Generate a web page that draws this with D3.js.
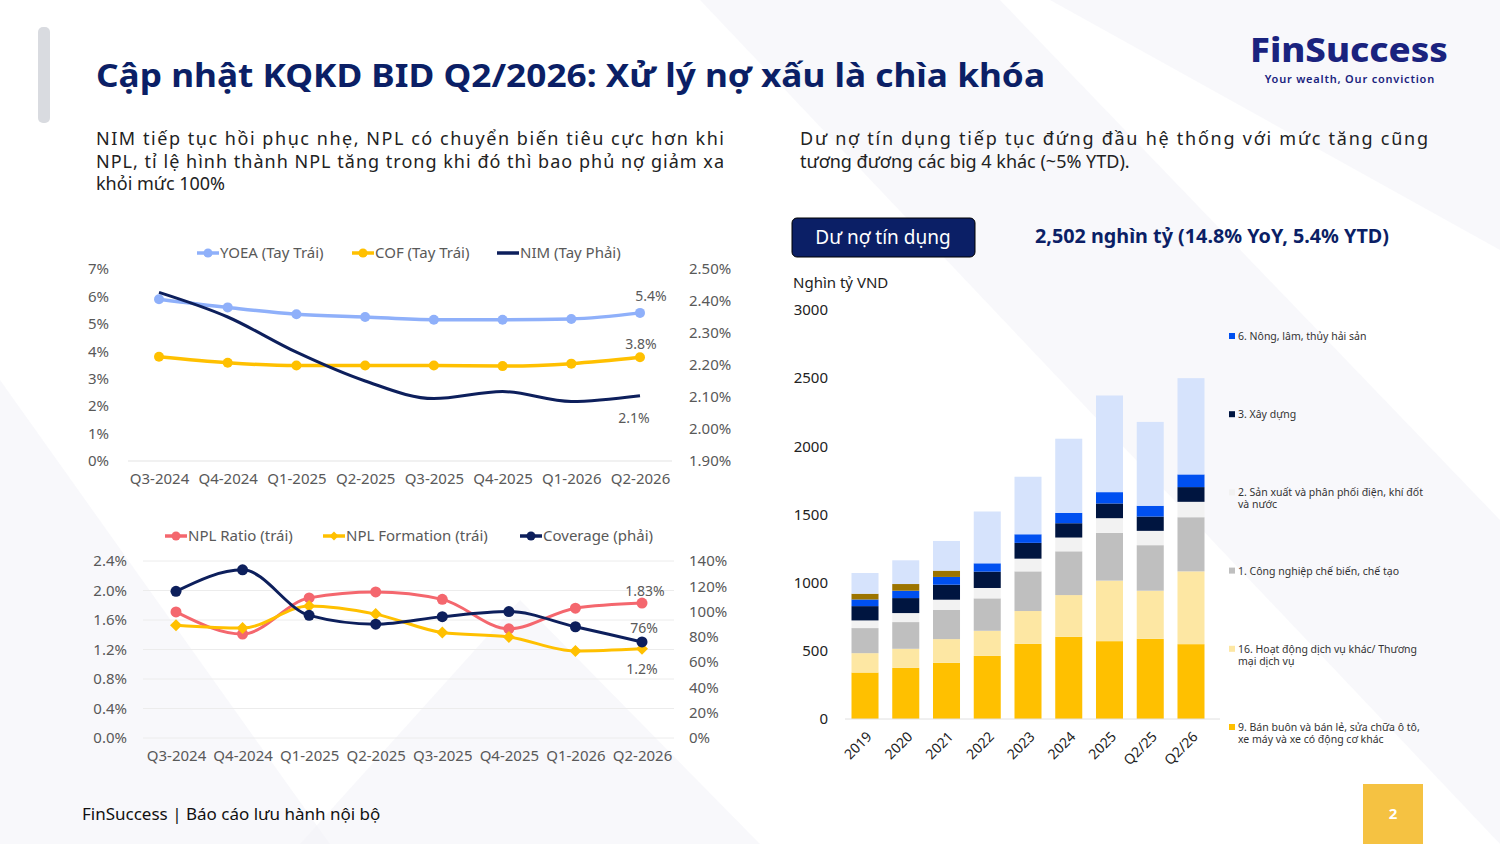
<!DOCTYPE html>
<html lang="vi">
<head>
<meta charset="utf-8">
<title>BID Q2/2026</title>
<script src="https://d3js.org/d3.v7.min.js"></script>
<style>
  body { margin:0; background:#fff; font-family:"Noto Sans", sans-serif; }
  svg text { font-family:"Noto Sans", sans-serif; }
</style>
</head>
<body>
<svg id="page" width="1500" height="844"></svg>
<script>
// ---- dữ liệu ----
const quarters = ["Q3-2024","Q4-2024","Q1-2025","Q2-2025","Q3-2025","Q4-2025","Q1-2026","Q2-2026"];
const yoea = [5.9, 5.6, 5.35, 5.25, 5.15, 5.15, 5.18, 5.4];
const cof = [3.8, 3.58, 3.48, 3.48, 3.48, 3.46, 3.55, 3.78];
const nim = [2.427, 2.35, 2.24, 2.15, 2.095, 2.117, 2.086, 2.104];
const nplRatio = [1.71, 1.41, 1.90, 1.98, 1.88, 1.48, 1.76, 1.83];
const nplFormation = [1.53, 1.49, 1.79, 1.68, 1.43, 1.37, 1.18, 1.21];
const coverage = [116, 133, 97, 90, 96, 100, 88, 76];
const nplTicks = [0, 0.4, 0.8, 1.2, 1.6, 2.0, 2.4];

const years = ["2019","2020","2021","2022","2023","2024","2025","Q2/25","Q2/26"];
const sTrade   = [341, 375, 412, 463, 551, 603, 571, 588, 549];
const sService = [142, 140, 174, 184, 241, 306, 444, 353, 534];
const sManuf   = [184, 196, 215, 238, 291, 321, 350, 334, 397];
const sPower   = [56, 66, 74, 76, 93, 101, 108, 105, 113];
const sBuild   = [105, 110, 110, 120, 116, 105, 108, 105, 108];
const sAgri    = [49, 54, 57, 61, 63, 76, 83, 79, 93];
const sBrown   = [42, 49, 46, 0, 0, 0, 0, 0, 0];
const sOther   = [152, 174, 218, 380, 422, 544, 709, 615, 706];
const barTicks = [0, 500, 1000, 1500, 2000, 2500, 3000];
const legendLabels = [
  ["6. Nông, lâm, thủy hải sản"],
  ["3. Xây dựng"],
  ["2. Sản xuất và phân phối điện, khí đốt","và nước"],
  ["1. Công nghiệp chế biến, chế tạo"],
  ["16. Hoạt động dịch vụ khác/ Thương","mại dịch vụ"],
  ["9. Bán buôn và bán lẻ, sửa chữa ô tô,","xe máy và xe có động cơ khác"]
];

const NAVY = "#0b1f66";
const svg = d3.select("#page");

// nền: các mảng chéo mờ
const bg = svg.append("g");
[[0,380,330,844,0,844],[700,0,1000,0,1500,520,1500,844],[1050,0,1500,0,1500,250],[300,844,520,600,760,844]].forEach(p => {
  const pts = [];
  for (let i = 0; i < p.length; i += 2) pts.push([p[i], p[i+1]]);
  bg.append("polygon").attr("points", pts.join(" ")).attr("fill", "#f3f4f8").attr("opacity", 0.6);
});
svg.append("rect").attr("x",38).attr("y",27).attr("width",12).attr("height",96).attr("rx",5).attr("fill","#d9dbe0");

// tiêu đề
svg.append("text").attr("x",96).attr("y",87).attr("font-size",32).attr("font-weight",700).attr("fill",NAVY)
  .attr("textLength",949).attr("lengthAdjust","spacingAndGlyphs")
  .text("Cập nhật KQKD BID Q2/2026: Xử lý nợ xấu là chìa khóa");
// logo
svg.append("text").attr("x",1448).attr("y",62).attr("text-anchor","end").attr("font-size",34).attr("font-weight",800)
  .attr("fill","#1a237e").attr("textLength",198).attr("lengthAdjust","spacingAndGlyphs").text("FinSuccess");
svg.append("text").attr("x",1435).attr("y",83).attr("text-anchor","end").attr("font-size",11).attr("font-weight",600)
  .attr("fill","#1a237e").attr("letter-spacing",0.8).text("Your wealth, Our conviction");

// đoạn mô tả
function para(x, y, lines, w) {
  lines.forEach((l, i) => {
    const t = svg.append("text").attr("x",x).attr("y",y + i*22.5).attr("font-size",18).attr("fill","#222").text(l);
    if (w && i < lines.length - 1) t.attr("textLength", w).attr("lengthAdjust","spacing");
  });
}
para(96, 145, ["NIM tiếp tục hồi phục nhẹ, NPL có chuyển biến tiêu cực hơn khi",
  "NPL, tỉ lệ hình thành NPL tăng trong khi đó thì bao phủ nợ giảm xa", "khỏi mức 100%"], 628);
para(800, 145, ["Dư nợ tín dụng tiếp tục đứng đầu hệ thống với mức tăng cũng",
  "tương đương các big 4 khác (~5% YTD)."], 628);

// ---- biểu đồ 1: YOEA / COF / NIM ----
const grey = "#595959";
const x1 = d3.scalePoint().domain(quarters).range([159, 640]);
const y1L = d3.scaleLinear().domain([0, 7]).range([461, 269]);
const y1R = d3.scaleLinear().domain([1.9, 2.5]).range([461, 269]);
const c1 = svg.append("g");
c1.append("line").attr("x1",128).attr("x2",672).attr("y1",461).attr("y2",461).attr("stroke","#e3e3e3");
c1.append("g").attr("transform","translate(112,0)").call(d3.axisLeft(y1L).ticks(7).tickFormat(d => d + "%").tickSize(0))
  .call(g => g.select(".domain").remove());
c1.append("g").attr("transform","translate(686,0)").call(d3.axisRight(y1R).ticks(6).tickFormat(d => d.toFixed(2) + "%").tickSize(0))
  .call(g => g.select(".domain").remove());
c1.append("g").attr("transform","translate(0,461)").call(d3.axisBottom(x1).tickSize(0).tickPadding(12))
  .call(g => g.select(".domain").remove());
const sm = d3.curveMonotoneX;
function series(g, vals, x, y, color, w, marker, r) {
  g.append("path").datum(vals).attr("fill","none").attr("stroke",color).attr("stroke-width",w)
    .attr("d", d3.line().x((d,i) => x(quarters[i])).y(d => y(d)).curve(sm));
  if (marker === "circle") g.selectAll(null).data(vals).join("circle")
    .attr("cx",(d,i) => x(quarters[i])).attr("cy", d => y(d)).attr("r", r).attr("fill", color);
  if (marker === "diamond") g.selectAll(null).data(vals).join("path")
    .attr("transform",(d,i) => `translate(${x(quarters[i])},${y(d)}) rotate(45)`)
    .attr("d", d3.symbol(d3.symbolSquare, r*r*2)()).attr("fill", color);
}
series(c1, yoea, x1, y1L, "#8fb0fa", 3.5, "circle", 5);
series(c1, cof, x1, y1L, "#ffc000", 3.5, "circle", 5);
series(c1, nim, x1, y1R, "#0d1f5c", 3, null);
function lbl(x, y, t) { svg.append("text").attr("x",x).attr("y",y).attr("text-anchor","middle").attr("font-size",14).attr("fill",grey).text(t); }
lbl(651, 301, "5.4%"); lbl(641, 349, "3.8%"); lbl(634, 423, "2.1%");
function legend(items, y) {
  items.forEach(([x, name, color, mk]) => {
    svg.append("line").attr("x1",x).attr("x2",x+22).attr("y1",y).attr("y2",y).attr("stroke",color).attr("stroke-width",3.5);
    if (mk === "circle") svg.append("circle").attr("cx",x+11).attr("cy",y).attr("r",4.5).attr("fill",color);
    if (mk === "diamond") svg.append("path").attr("transform",`translate(${x+11},${y}) rotate(45)`).attr("d",d3.symbol(d3.symbolSquare,40)()).attr("fill",color);
    svg.append("text").attr("x",x+23).attr("y",y+5).attr("font-size",15).attr("fill",grey).text(name);
  });
}
legend([[197,"YOEA (Tay Trái)","#8fb0fa","circle"],[352,"COF (Tay Trái)","#ffc000","circle"],[497,"NIM (Tay Phải)","#0d1f5c",null]], 253);

// ---- biểu đồ 2: NPL ----
const x2 = d3.scalePoint().domain(quarters).range([176, 642]);
const y2L = d3.scaleLinear().domain([0, 2.4]).range([738, 561]);
const y2R = d3.scaleLinear().domain([0, 140]).range([738, 561]);
const c2 = svg.append("g");
c2.append("g").selectAll("line").data(nplTicks).join("line").attr("x1",143).attr("x2",674)
  .attr("y1",d => y2L(d)).attr("y2",d => y2L(d)).attr("stroke","#ececec");
c2.append("g").attr("transform","translate(130,0)").call(d3.axisLeft(y2L).tickValues(nplTicks).tickFormat(d => d.toFixed(1) + "%").tickSize(0))
  .call(g => g.select(".domain").remove());
c2.append("g").attr("transform","translate(686,0)").call(d3.axisRight(y2R).ticks(7).tickFormat(d => d + "%").tickSize(0))
  .call(g => g.select(".domain").remove());
c2.append("g").attr("transform","translate(0,738)").call(d3.axisBottom(x2).tickSize(0).tickPadding(12))
  .call(g => g.select(".domain").remove());
series(c2, nplRatio, x2, y2L, "#f4676e", 3, "circle", 5.5);
series(c2, nplFormation, x2, y2L, "#ffc000", 3, "diamond", 6);
series(c2, coverage, x2, y2R, "#0d1f5c", 3, "circle", 5.5);
lbl(645, 596, "1.83%"); lbl(644, 633, "76%"); lbl(642, 674, "1.2%");
legend([[165,"NPL Ratio (trái)","#f4676e","circle"],[323,"NPL Formation (trái)","#ffc000","diamond"],[520,"Coverage (phải)","#0d1f5c","circle"]], 536);

[c1, c2].forEach(c => c.selectAll(".tick text").attr("fill", grey).attr("font-size", 15).attr("font-family","Noto Sans"));

// ---- biểu đồ cột chồng: dư nợ ----
svg.append("rect").attr("x",792).attr("y",218).attr("width",183).attr("height",39).attr("rx",5).attr("fill",NAVY)
  .attr("stroke","#000").attr("stroke-width",1);
svg.append("text").attr("x",883).attr("y",244).attr("text-anchor","middle").attr("font-size",19).attr("fill","#fff").text("Dư nợ tín dụng");
svg.append("text").attr("x",1212).attr("y",243).attr("text-anchor","middle").attr("font-size",19).attr("font-weight",700).attr("fill",NAVY)
  .attr("textLength",354).attr("lengthAdjust","spacingAndGlyphs")
  .text("2,502 nghìn tỷ (14.8% YoY, 5.4% YTD)");
svg.append("text").attr("x",793).attr("y",288).attr("font-size",15).attr("fill","#222").text("Nghìn tỷ VND");

const keys = ["trade","service","manuf","power","build","agri","brown","other"];
const colors = ["#ffc000","#fde7a3","#bfbfbf","#f2f2f2","#001540","#0050f0","#9c7400","#d6e3fc"];
const rows = years.map((y, i) => ({ year: y, trade: sTrade[i], service: sService[i], manuf: sManuf[i], power: sPower[i],
  build: sBuild[i], agri: sAgri[i], brown: sBrown[i], other: sOther[i] }));
const stack = d3.stack().keys(keys)(rows);
const xb = d3.scaleBand().domain(years).range([851.5, 1204.5]).paddingInner(0.337).paddingOuter(0);
const yb = d3.scaleLinear().domain([0, 3000]).range([719, 310]);
const cb = svg.append("g");
cb.selectAll("g").data(stack).join("g").attr("fill",(d,i) => colors[i])
  .selectAll("rect").data(d => d).join("rect")
  .attr("x", d => xb(d.data.year)).attr("width", xb.bandwidth())
  .attr("y", d => yb(d[1])).attr("height", d => yb(d[0]) - yb(d[1]));
cb.append("line").attr("x1",845).attr("x2",1220).attr("y1",719).attr("y2",719).attr("stroke","#e0e0e0");
cb.append("g").attr("transform","translate(831,0)").call(d3.axisLeft(yb).tickValues(barTicks).tickFormat(d3.format("d")).tickSize(0))
  .call(g => g.select(".domain").remove())
  .selectAll("text").attr("font-size",15).attr("fill","#222").attr("font-family","Noto Sans");
cb.append("g").attr("transform","translate(0,727)").call(d3.axisBottom(xb).tickSize(0))
  .call(g => g.select(".domain").remove())
  .selectAll("text").attr("font-size",14).attr("fill","#222").attr("font-family","Noto Sans")
  .attr("text-anchor","end").attr("transform","rotate(-45)").attr("dx","-2").attr("dy","10");

// chú giải bên phải
const legColors = ["#0050f0","#001540","#f2f2f2","#bfbfbf","#fde7a3","#ffc000"];
const legY = d3.scalePoint().domain(d3.range(6)).range([336, 727]);
legendLabels.forEach((lines, i) => {
  const y = legY(i);
  svg.append("rect").attr("x",1229).attr("y",y-3).attr("width",6).attr("height",6).attr("fill",legColors[i]);
  lines.forEach((l, j) => svg.append("text").attr("x",1238).attr("y",y + 4 + j*12).attr("font-size",10.5).attr("fill","#333").text(l));
});

// chân trang
svg.append("text").attr("x",82).attr("y",820).attr("font-size",17).attr("fill","#111").text("FinSuccess | Báo cáo lưu hành nội bộ");
svg.append("rect").attr("x",1363).attr("y",784).attr("width",60).attr("height",60).attr("fill","#f5c242");
svg.append("text").attr("x",1393).attr("y",819).attr("text-anchor","middle").attr("font-size",15).attr("font-weight",700).attr("fill","#fff").text("2");
</script>
</body>
</html>
